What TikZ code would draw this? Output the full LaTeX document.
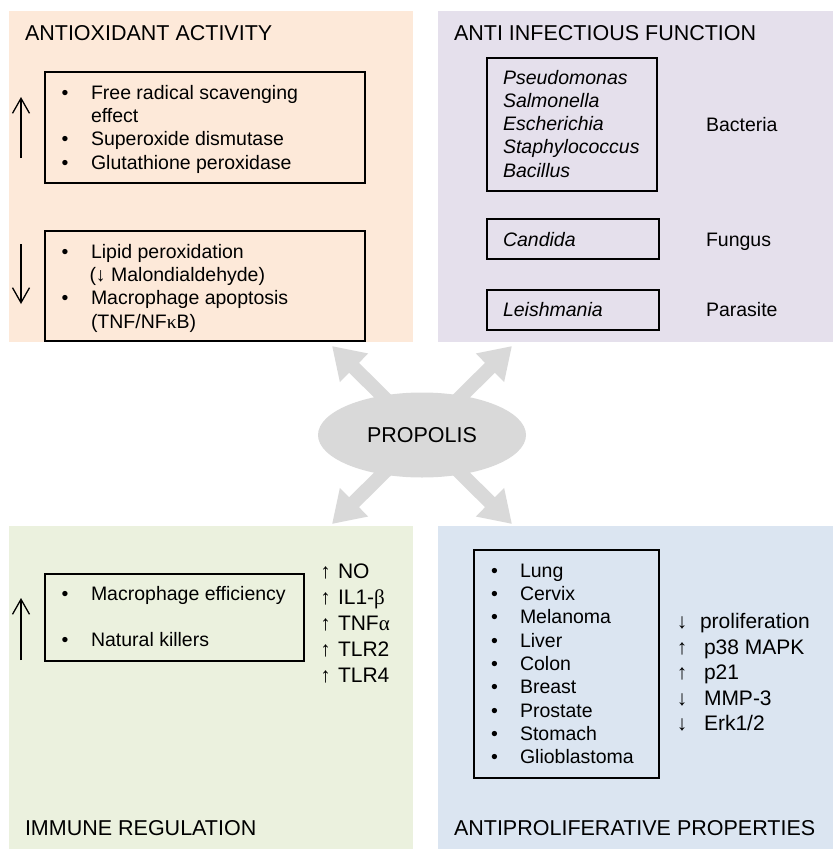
\documentclass[tikz,border=0pt]{standalone}
\usepackage{fontspec}
\setmainfont{Liberation Sans}
\newfontfamily\grk{Liberation Serif}
\usetikzlibrary{arrows.meta,shapes.geometric}
\definecolor{peach}{HTML}{FDE9D9}
\definecolor{lavender}{HTML}{E5E0EC}
\definecolor{palegreen}{HTML}{EBF1DE}
\definecolor{paleblue}{HTML}{DBE5F1}
\definecolor{propgray}{HTML}{D9D9D9}
\begin{document}
\begin{tikzpicture}[x=1pt,y=-1pt,
  every node/.style={inner sep=0pt,outer sep=0pt},
  title/.style={font=\fontsize{21.5}{25}\selectfont,anchor=base west},
  body/.style={font=\fontsize{19.5}{23.3}\selectfont,anchor=base west},
  itbody/.style={font=\fontsize{19.5}{23.3}\selectfont\itshape,anchor=base west},
  bul/.style={font=\fontsize{19.5}{23.3}\selectfont,anchor=base},
  big/.style={font=\fontsize{21}{26}\selectfont,anchor=base west},
  bigarr/.style={font=\fontsize{21}{26}\selectfont,anchor=base},
  framebox/.style={draw=black,line width=1.8pt},
  thinarrow/.style={line width=1.3pt,-{Straight Barb[length=15pt,width=17pt]}},
  grayarrow/.style={draw=propgray,line width=14pt,-{Triangle[length=31pt,width=38pt]}}
]
\useasboundingbox (0,0) rectangle (833,849);
% panels
\fill[peach] (9,11) rectangle (413,342);
\fill[lavender] (438,11) rectangle (833,342);
\fill[palegreen] (9,526) rectangle (413,849);
\fill[paleblue] (438,526) rectangle (833,849);

% ---------- top left ----------
\node[title] (t1) at (25,40) {ANTIOXIDANT ACTIVITY};
\draw[framebox] (45,72) rectangle (365,183);
\coordinate (ua1) at (21,158); \coordinate (ua1t) at (21,97);
\draw[thinarrow] (ua1) -- (ua1t);
\node[bul] (b11) at (65,99.3) {•};
\node[body] (l11) at (91,99.3) {Free radical scavenging};
\node[body] (l12) at (91,122.6) {effect};
\node[bul] (b12) at (65,145.9) {•};
\node[body] (l13) at (91,145.9) {Superoxide dismutase};
\node[bul] (b13) at (65,169.2) {•};
\node[body] (l14) at (91,169.2) {Glutathione peroxidase};

\draw[framebox] (45,231) rectangle (365,341);
\coordinate (da1) at (21,244); \coordinate (da1t) at (21,304);
\draw[thinarrow] (da1) -- (da1t);
\node[bul] (b21) at (65,258.3) {•};
\node[body] (l21) at (91,258.3) {Lipid peroxidation};
\node[body] (l22) at (89.5,281.6) {(↓ Malondialdehyde)};
\node[bul] (b22) at (65,304.9) {•};
\node[body] (l23) at (91,304.9) {Macrophage apoptosis};
\node[body] (l24) at (91,328.2) {(TNF/NF{\grk κ}B)};

% ---------- top right ----------
\node[title] (t2) at (454,40) {ANTI INFECTIOUS FUNCTION};
\draw[framebox] (487,58) rectangle (657,191);
\node[itbody] (p1) at (503,84) {Pseudomonas};
\node[itbody] (p2) at (503,107.3) {Salmonella};
\node[itbody] (p3) at (503,130.6) {Escherichia};
\node[itbody] (p4) at (503,153.9) {Staphylococcus};
\node[itbody] (p5) at (503,177.2) {Bacillus};
\node[body] (bac) at (706,131.7) {Bacteria};
\draw[framebox] (487,219) rectangle (659,259);
\node[itbody] (can) at (503,246) {Candida};
\node[body] (fun) at (706,246) {Fungus};
\draw[framebox] (487,290) rectangle (659,330);
\node[itbody] (lei) at (503,316.7) {Leishmania};
\node[body] (par) at (706,316.7) {Parasite};

% ---------- bottom left ----------
\draw[framebox] (45,574) rectangle (304,661);
\coordinate (ua2) at (21,660); \coordinate (ua2t) at (21,598);
\draw[thinarrow] (ua2) -- (ua2t);
\node[bul] (b31) at (65,600.7) {•};
\node[body] (m1) at (91,600.7) {Macrophage efficiency};
\node[bul] (b32) at (65,646.7) {•};
\node[body] (m2) at (91,646.7) {Natural killers};
\node[bigarr] (ra1) at (325.5,578.5) {↑};
\node[big] (r1) at (338,578.5) {NO};
\node[bigarr] (ra2) at (325.5,604.5) {↑};
\node[big] (r2) at (338,604.5) {IL1-{\grk β}};
\node[bigarr] (ra3) at (325.5,630.5) {↑};
\node[big] (r3) at (338,630.5) {TNF{\grk α}};
\node[bigarr] (ra4) at (325.5,656.5) {↑};
\node[big] (r4) at (338,656.5) {TLR2};
\node[bigarr] (ra5) at (325.5,682.5) {↑};
\node[big] (r5) at (338,682.5) {TLR4};
\node[title] (t3) at (25,835) {IMMUNE REGULATION};

% ---------- bottom right ----------
\draw[framebox] (474,550) rectangle (659,778);
\foreach \t [count=\i from 0] in {Lung,Cervix,Melanoma,Liver,Colon,Breast,Prostate,Stomach,Glioblastoma}{
  \node[bul] (cb\i) at (494.5,577.3+23.3*\i) {•};
  \node[body] (ct\i) at (520,577.3+23.3*\i) {\t};
}
\node[bigarr] (sa1) at (682,628.3) {↓};
\node[big] (s1) at (700,628.3) {proliferation};
\node[bigarr] (sa2) at (682,654) {↑};
\node[big] (s2) at (704,654) {p38 MAPK};
\node[bigarr] (sa3) at (682,679.6) {↑};
\node[big] (s3) at (704,679.6) {p21};
\node[bigarr] (sa4) at (682,705.2) {↓};
\node[big] (s4) at (704,705.2) {MMP-3};
\node[bigarr] (sa5) at (682,730.8) {↓};
\node[big] (s5) at (704,730.8) {Erk1/2};
\node[title] (t4) at (454,835) {ANTIPROLIFERATIVE PROPERTIES};

% ---------- centre ----------
\coordinate (pc) at (422,435);
\coordinate (tipTL) at (332,346);
\coordinate (tipTR) at (512,346);
\coordinate (tipBL) at (332,524);
\coordinate (tipBR) at (512,524);
\draw[grayarrow] (pc) -- (tipTL);
\draw[grayarrow] (pc) -- (tipTR);
\draw[grayarrow] (pc) -- (tipBL);
\draw[grayarrow] (pc) -- (tipBR);
\node[ellipse,fill=propgray,minimum width=208pt,minimum height=85pt,
  font=\fontsize{21.5}{25}\selectfont] (prop) at (pc) {PROPOLIS};
\end{tikzpicture}
\end{document}
